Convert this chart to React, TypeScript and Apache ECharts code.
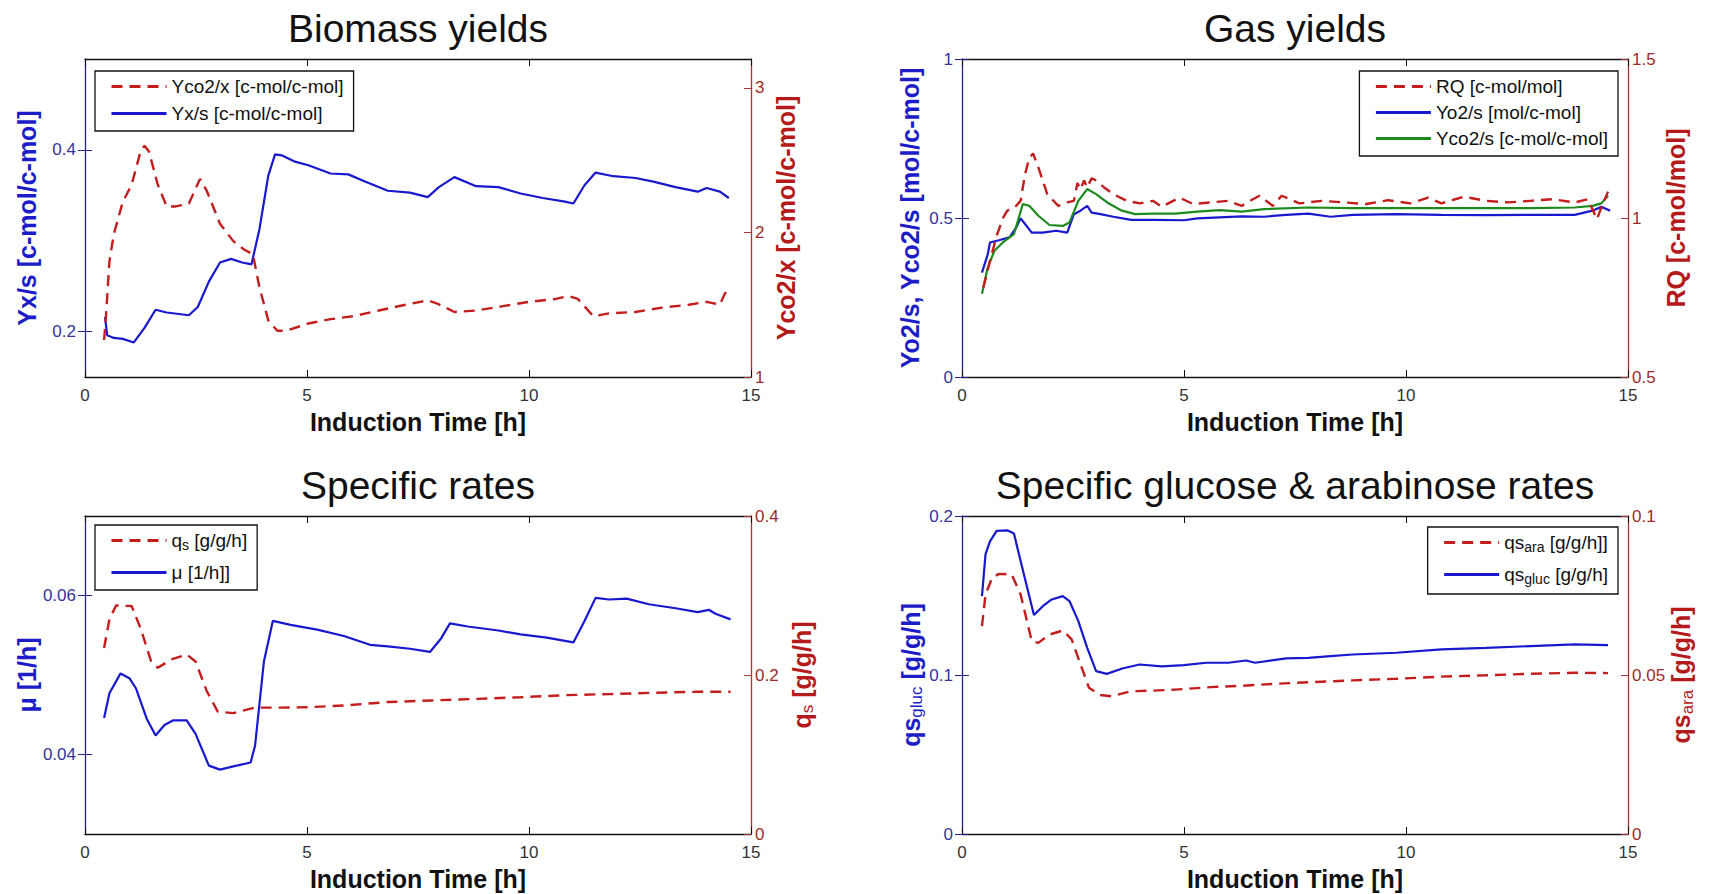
import React, { useEffect, useRef } from "react";
import * as echarts from "echarts";

// ---------- Biomass yields ----------
const yxsTime = [0.45, 0.5, 0.65, 0.85, 1.1, 1.34, 1.59, 1.84, 2.34, 2.54, 2.79, 3.04, 3.29, 3.54, 3.75, 3.93, 4.13, 4.28, 4.43, 4.73, 5.03, 5.53, 5.93, 6.32, 6.82, 7.32, 7.72, 7.97, 8.32, 8.81, 9.31, 9.81, 10.31, 10.81, 11.0, 11.25, 11.5, 11.9, 12.4, 12.8, 13.3, 13.8, 14.0, 14.3, 14.5];
const yxsValues = [0.216, 0.196, 0.193, 0.192, 0.188, 0.204, 0.224, 0.221, 0.218, 0.227, 0.255, 0.276, 0.28, 0.276, 0.274, 0.313, 0.372, 0.395, 0.394, 0.387, 0.383, 0.374, 0.373, 0.365, 0.355, 0.353, 0.348, 0.359, 0.37, 0.36, 0.359, 0.352, 0.347, 0.343, 0.341, 0.361, 0.375, 0.371, 0.369, 0.365, 0.359, 0.354, 0.358, 0.354, 0.347];
const yco2xTime = [0.43, 0.47, 0.55, 0.65, 0.85, 1.05, 1.25, 1.34, 1.44, 1.64, 1.84, 2.04, 2.34, 2.59, 2.74, 3.04, 3.34, 3.59, 3.78, 3.93, 4.13, 4.33, 4.53, 5.03, 5.53, 6.03, 6.62, 7.22, 7.72, 7.92, 8.32, 8.81, 9.41, 10.0, 10.6, 10.9, 11.1, 11.45, 11.8, 12.4, 13.0, 13.6, 14.0, 14.3, 14.4, 14.5];
const yco2xValues = [1.256, 1.41, 1.8, 1.99, 2.21, 2.33, 2.56, 2.6, 2.56, 2.33, 2.18, 2.18, 2.2, 2.37, 2.29, 2.06, 1.94, 1.88, 1.85, 1.62, 1.39, 1.32, 1.32, 1.37, 1.4, 1.42, 1.46, 1.5, 1.53, 1.51, 1.45, 1.46, 1.49, 1.52, 1.54, 1.56, 1.54, 1.42, 1.44, 1.45, 1.48, 1.5, 1.52, 1.5, 1.57, 1.62];

// ---------- Gas yields ----------
const rqTime = [0.48, 0.63, 0.78, 0.93, 1.02, 1.17, 1.32, 1.42, 1.52, 1.6, 1.72, 1.92, 2.17, 2.37, 2.52, 2.6, 2.67, 2.75, 2.82, 2.92, 3.02, 3.2, 3.41, 3.71, 4.01, 4.3, 4.5, 4.7, 4.9, 5.2, 5.6, 6.0, 6.3, 6.5, 6.7, 7.0, 7.2, 7.6, 8.1, 8.6, 9.1, 9.6, 10.1, 10.5, 10.8, 11.3, 11.8, 12.3, 12.8, 13.3, 13.8, 14.1, 14.3, 14.4, 14.55];
const rqValues = [0.781, 0.865, 0.944, 1.002, 1.023, 1.031, 1.054, 1.138, 1.19, 1.203, 1.159, 1.075, 1.038, 1.049, 1.054, 1.11, 1.09, 1.118, 1.096, 1.125, 1.118, 1.096, 1.075, 1.054, 1.046, 1.054, 1.035, 1.05, 1.064, 1.044, 1.049, 1.054, 1.038, 1.055, 1.07, 1.038, 1.07, 1.046, 1.054, 1.049, 1.044, 1.056, 1.046, 1.064, 1.046, 1.067, 1.054, 1.049, 1.054, 1.059, 1.049, 1.059, 0.996, 1.033, 1.083];
const yo2sTime = [0.45, 0.58, 0.63, 0.83, 1.07, 1.22, 1.32, 1.42, 1.57, 1.82, 2.12, 2.37, 2.52, 2.67, 2.82, 2.92, 3.12, 3.41, 3.81, 4.31, 5.0, 5.3, 5.8, 6.3, 6.8, 7.3, 7.8, 8.3, 8.8, 9.78, 10.8, 11.8, 12.8, 13.8, 14.2, 14.4, 14.6];
const yo2sValues = [0.328, 0.386, 0.423, 0.43, 0.439, 0.47, 0.499, 0.481, 0.454, 0.454, 0.46, 0.454, 0.512, 0.523, 0.538, 0.517, 0.512, 0.504, 0.494, 0.494, 0.493, 0.499, 0.502, 0.505, 0.504, 0.51, 0.514, 0.504, 0.51, 0.512, 0.51, 0.509, 0.51, 0.51, 0.523, 0.535, 0.523];
const yco2sTime = [0.45, 0.58, 0.73, 0.92, 1.17, 1.37, 1.52, 1.72, 1.97, 2.27, 2.42, 2.62, 2.82, 3.02, 3.27, 3.6, 3.9, 4.3, 4.8, 5.3, 5.8, 6.3, 6.8, 7.8, 8.8, 9.8, 10.8, 11.8, 12.8, 13.8, 14.2, 14.4, 14.55];
const yco2sValues = [0.262, 0.344, 0.397, 0.423, 0.449, 0.544, 0.538, 0.507, 0.478, 0.475, 0.486, 0.554, 0.591, 0.575, 0.549, 0.523, 0.512, 0.514, 0.514, 0.52, 0.525, 0.52, 0.528, 0.533, 0.531, 0.531, 0.531, 0.531, 0.531, 0.533, 0.538, 0.546, 0.57];

// ---------- Specific rates ----------
const muTime = [0.43, 0.55, 0.8, 1.0, 1.15, 1.39, 1.59, 1.79, 1.99, 2.29, 2.49, 2.79, 3.04, 3.34, 3.73, 3.83, 4.03, 4.23, 4.63, 5.23, 5.83, 6.42, 6.82, 7.32, 7.77, 8.02, 8.22, 8.62, 9.31, 9.81, 10.4, 11.0, 11.25, 11.5, 11.8, 12.2, 12.7, 13.3, 13.8, 14.05, 14.2, 14.54];
const muValues = [0.0446, 0.0477, 0.0502, 0.0496, 0.0483, 0.0445, 0.0424, 0.0437, 0.0443, 0.0443, 0.0426, 0.0386, 0.0381, 0.0385, 0.039, 0.0411, 0.0517, 0.0568, 0.0563, 0.0557, 0.0549, 0.0538, 0.0536, 0.0533, 0.0529, 0.0546, 0.0565, 0.0561, 0.0556, 0.0551, 0.0547, 0.0541, 0.0568, 0.0597, 0.0595, 0.0596, 0.0589, 0.0584, 0.0579, 0.0582, 0.0577, 0.057];
const qsTime = [0.43, 0.55, 0.7, 1.05, 1.25, 1.49, 1.64, 1.94, 2.29, 2.49, 2.74, 2.99, 3.34, 3.83, 4.33, 5.03, 5.83, 6.82, 7.82, 8.82, 9.81, 10.8, 11.8, 12.8, 13.8, 14.54];
const qsValues = [0.234, 0.27, 0.2875, 0.2867, 0.259, 0.217, 0.209, 0.2195, 0.2258, 0.217, 0.18, 0.154, 0.152, 0.159, 0.159, 0.1595, 0.1616, 0.166, 0.168, 0.17, 0.172, 0.1746, 0.176, 0.1776, 0.179, 0.179];

// ---------- Specific glucose & arabinose rates ----------
const glucTime = [0.45, 0.53, 0.63, 0.78, 1.02, 1.17, 1.32, 1.62, 1.82, 2.02, 2.27, 2.42, 2.62, 2.82, 3.02, 3.26, 3.61, 4.0, 4.5, 5.0, 5.5, 6.0, 6.4, 6.6, 7.3, 7.8, 8.3, 8.8, 9.78, 10.8, 11.8, 12.8, 13.8, 14.55];
const glucValues = [0.1496, 0.176, 0.184, 0.1906, 0.191, 0.189, 0.1717, 0.1377, 0.1433, 0.1475, 0.1496, 0.1465, 0.1339, 0.1171, 0.1024, 0.1007, 0.1041, 0.1066, 0.1054, 0.1062, 0.1077, 0.1077, 0.1091, 0.1077, 0.1104, 0.1108, 0.1119, 0.1129, 0.114, 0.1161, 0.1171, 0.1182, 0.1192, 0.1188];
const araTime = [0.45, 0.53, 0.68, 0.83, 1.12, 1.32, 1.57, 1.72, 1.97, 2.27, 2.47, 2.67, 2.86, 3.11, 3.36, 3.81, 4.31, 4.8, 5.6, 6.3, 7.0, 7.8, 8.8, 9.78, 10.8, 11.8, 12.8, 13.8, 14.55];
const araValues = [0.0654, 0.0753, 0.0806, 0.0818, 0.0816, 0.0753, 0.0607, 0.0601, 0.0627, 0.064, 0.0612, 0.0533, 0.046, 0.0437, 0.0433, 0.0449, 0.0451, 0.0454, 0.0462, 0.0466, 0.0472, 0.0477, 0.0483, 0.0488, 0.0495, 0.0499, 0.0504, 0.0507, 0.0506];

// ---------- Panel texts ----------
const titles = ["Biomass yields", "Gas yields", "Specific rates", "Specific glucose & arabinose rates"];
const xName = "Induction Time [h]";
const xTicks = [0, 5, 10, 15];

const FONT = '"Liberation Sans", Arial, Helvetica, sans-serif';
const BLUE = "#1818cf";
const RED = "#c41d1d";
const GREEN = "#1c8a1c";
const LEFT_AXIS = "#22228a";
const RIGHT_AXIS = "#a83434";
const LEFT_NAME = "#1c1cc8";
const RIGHT_NAME = "#b41a1a";

// grid boxes [left, top] — all plots share the same size
const GRID_W = 666;
const GRID_H = 318;
const gridPos = [
  [85, 59],
  [962, 59],
  [85, 516],
  [962, 516],
];

const pts = (t: number[], v: number[]) => t.map((x, i) => [x, v[i]]);

const nameRich = (color: string) => ({
  b: { fontSize: 25, fontWeight: "bold", color, fontFamily: FONT },
  s: { fontSize: 17, fontWeight: "normal", color, fontFamily: FONT, padding: [12, 0, 0, 0] },
});

function xAxesFor(g: number) {
  const base = {
    type: "value",
    gridIndex: g,
    min: 0,
    max: 15,
    interval: 5,
    splitLine: { show: false },
    axisLine: { show: true, onZero: false, lineStyle: { color: "#111", width: 1.3 } },
    axisTick: { show: true, inside: true, length: 7, lineStyle: { color: "#111", width: 1 } },
  };
  return [
    {
      ...base,
      position: "bottom",
      axisLabel: { show: true, margin: 10, fontSize: 17, color: "#333", fontFamily: FONT, customValues: xTicks },
      name: xName,
      nameLocation: "middle",
      nameGap: 32,
      nameTextStyle: { fontSize: 25, fontWeight: "bold", color: "#111", fontFamily: FONT },
    },
    { ...base, position: "top", axisLabel: { show: false } },
  ];
}

type Side = {
  min: number;
  max: number;
  ticks: number[];
  name: string;
  gap: number;
};

function yAxesFor(g: number, left: Side, right: Side) {
  const common = { type: "value", gridIndex: g, splitLine: { show: false } };
  return [
    {
      ...common,
      position: "left",
      min: left.min,
      max: left.max,
      axisLine: { show: true, onZero: false, lineStyle: { color: LEFT_AXIS, width: 1.3 } },
      axisTick: { show: true, inside: true, length: 7, customValues: left.ticks, lineStyle: { color: LEFT_AXIS } },
      axisLabel: { margin: 9, fontSize: 17, color: "#34349a", fontFamily: FONT, customValues: left.ticks },
      name: left.name,
      nameLocation: "middle",
      nameRotate: 90,
      nameGap: left.gap,
      nameTextStyle: { fontSize: 25, fontWeight: "bold", color: LEFT_NAME, fontFamily: FONT, rich: nameRich(LEFT_NAME) },
    },
    {
      ...common,
      position: "right",
      min: right.min,
      max: right.max,
      axisLine: { show: true, onZero: false, lineStyle: { color: RIGHT_AXIS, width: 1.3 } },
      axisTick: { show: true, inside: true, length: 7, customValues: right.ticks, lineStyle: { color: RIGHT_AXIS } },
      axisLabel: { margin: 4, fontSize: 17, color: "#a02a2a", fontFamily: FONT, customValues: right.ticks },
      name: right.name,
      nameLocation: "middle",
      nameRotate: 90,
      nameGap: right.gap,
      nameTextStyle: { fontSize: 25, fontWeight: "bold", color: RIGHT_NAME, fontFamily: FONT, rich: nameRich(RIGHT_NAME) },
    },
    // left scale ticks mirrored on the right edge of the box
    {
      ...common,
      position: "right",
      min: left.min,
      max: left.max,
      axisLine: { show: false },
      axisTick: { show: true, inside: true, length: 7, customValues: left.ticks, lineStyle: { color: LEFT_AXIS } },
      axisLabel: { show: false },
    },
  ];
}

function line(name: string, g: number, yi: number, t: number[], v: number[], color: string, dashed: boolean) {
  return {
    type: "line",
    name,
    xAxisIndex: g * 2,
    yAxisIndex: g * 3 + yi,
    data: pts(t, v),
    symbol: "none",
    showSymbol: false,
    silent: true,
    lineStyle: { color, width: dashed ? 2.4 : 2.2, type: dashed ? [11, 7] : "solid" },
    itemStyle: { color },
  };
}

const legendRich = {
  n: { fontSize: 19, color: "#111", fontFamily: FONT },
  s: { fontSize: 14, color: "#111", fontFamily: FONT, padding: [9, 0, 0, 0] },
};

const legendLabels: Record<string, string> = {
  "Yco2/x [c-mol/c-mol]": "{n|Yco2/x [c-mol/c-mol]}",
  "Yx/s [c-mol/c-mol]": "{n|Yx/s [c-mol/c-mol]}",
  "RQ [c-mol/mol]": "{n|RQ [c-mol/mol]}",
  "Yo2/s [mol/c-mol]": "{n|Yo2/s [mol/c-mol]}",
  "Yco2/s [c-mol/c-mol]": "{n|Yco2/s [c-mol/c-mol]}",
  "qs [g/g/h]": "{n|q}{s|s}{n| [g/g/h]}",
  "μ [1/h]]": "{n|μ [1/h]]}",
  "qs ara [g/g/h]]": "{n|qs}{s|ara}{n| [g/g/h]]}",
  "qs gluc [g/g/h]": "{n|qs}{s|gluc}{n| [g/g/h]}",
};

function legendAt(data: string[], pos: Record<string, number>, gap: number) {
  return {
    ...pos,
    data,
    orient: "vertical",
    selectedMode: false,
    itemWidth: 55,
    itemHeight: 14,
    itemGap: gap,
    padding: [6, 10, 8, 15],
    borderColor: "#111",
    borderWidth: 1.3,
    backgroundColor: "#fff",
    lineStyle: { width: 3 },
    // line-only keys: hide the marker drawn in the middle of each key
    itemStyle: { opacity: 0 },
    textStyle: { fontSize: 19, color: "#111", fontFamily: FONT, rich: legendRich },
    formatter: (name: string) => legendLabels[name] ?? name,
  };
}

function buildOption() {
  const xAxis = [0, 1, 2, 3].flatMap((g) => xAxesFor(g));
  const yAxis = [
    ...yAxesFor(
      0,
      { min: 0.15, max: 0.5, ticks: [0.2, 0.4], name: "Yx/s [c-mol/c-mol]", gap: 46 },
      { min: 1, max: 3.2, ticks: [1, 2, 3], name: "Yco2/x [c-mol/c-mol]", gap: 22 }
    ),
    ...yAxesFor(
      1,
      { min: 0, max: 1, ticks: [0, 0.5, 1], name: "Yo2/s, Yco2/s [mol/c-mol]", gap: 40 },
      { min: 0.5, max: 1.5, ticks: [0.5, 1, 1.5], name: "RQ [c-mol/mol]", gap: 35 }
    ),
    ...yAxesFor(
      2,
      { min: 0.03, max: 0.07, ticks: [0.04, 0.06], name: "μ [1/h]", gap: 46 },
      { min: 0, max: 0.4, ticks: [0, 0.2, 0.4], name: "{b|q}{s|s}{b| [g/g/h]}", gap: 36 }
    ),
    ...yAxesFor(
      3,
      { min: 0, max: 0.2, ticks: [0, 0.1, 0.2], name: "{b|qs}{s|gluc}{b| [g/g/h]}", gap: 18 },
      { min: 0, max: 0.1, ticks: [0, 0.05, 0.1], name: "{b|qs}{s|ara}{b| [g/g/h]}", gap: 31 }
    ),
  ];

  const series = [
    line("Yx/s [c-mol/c-mol]", 0, 0, yxsTime, yxsValues, BLUE, false),
    line("Yco2/x [c-mol/c-mol]", 0, 1, yco2xTime, yco2xValues, RED, true),
    line("Yo2/s [mol/c-mol]", 1, 0, yo2sTime, yo2sValues, BLUE, false),
    line("Yco2/s [c-mol/c-mol]", 1, 0, yco2sTime, yco2sValues, GREEN, false),
    line("RQ [c-mol/mol]", 1, 1, rqTime, rqValues, RED, true),
    line("μ [1/h]]", 2, 0, muTime, muValues, BLUE, false),
    line("qs [g/g/h]", 2, 1, qsTime, qsValues, RED, true),
    line("qs gluc [g/g/h]", 3, 0, glucTime, glucValues, BLUE, false),
    line("qs ara [g/g/h]]", 3, 1, araTime, araValues, RED, true),
  ];

  const legend = [
    legendAt(["Yco2/x [c-mol/c-mol]", "Yx/s [c-mol/c-mol]"], { left: 95, top: 71 }, 8),
    legendAt(["RQ [c-mol/mol]", "Yo2/s [mol/c-mol]", "Yco2/s [c-mol/c-mol]"], { right: 100, top: 71 }, 7),
    legendAt(["qs [g/g/h]", "μ [1/h]]"], { left: 95, top: 525 }, 11),
    legendAt(["qs ara [g/g/h]]", "qs gluc [g/g/h]"], { right: 100, top: 527 }, 11),
  ];

  const graphic = titles.map((text, i) => ({
    type: "text",
    x: gridPos[i][0] + GRID_W / 2,
    y: gridPos[i][1] - 31,
    silent: true,
    style: {
      text,
      fill: "#111",
      font: `39px ${FONT}`,
      textAlign: "center",
      textVerticalAlign: "middle",
    },
  }));

  return {
    animation: false,
    backgroundColor: "#ffffff",
    grid: gridPos.map(([left, top]) => ({ left, top, width: GRID_W, height: GRID_H, containLabel: false })),
    xAxis,
    yAxis,
    series,
    legend,
    graphic,
  };
}

export default function App() {
  const ref = useRef<HTMLDivElement>(null);
  useEffect(() => {
    if (!ref.current) return;
    const chart = echarts.init(ref.current, null, { renderer: "svg" });
    chart.setOption(buildOption() as any);
    return () => chart.dispose();
  }, []);
  return (
    <div
      ref={ref}
      style={{ position: "fixed", left: 0, top: 0, width: 1718, height: 894, background: "#fff" }}
    />
  );
}
